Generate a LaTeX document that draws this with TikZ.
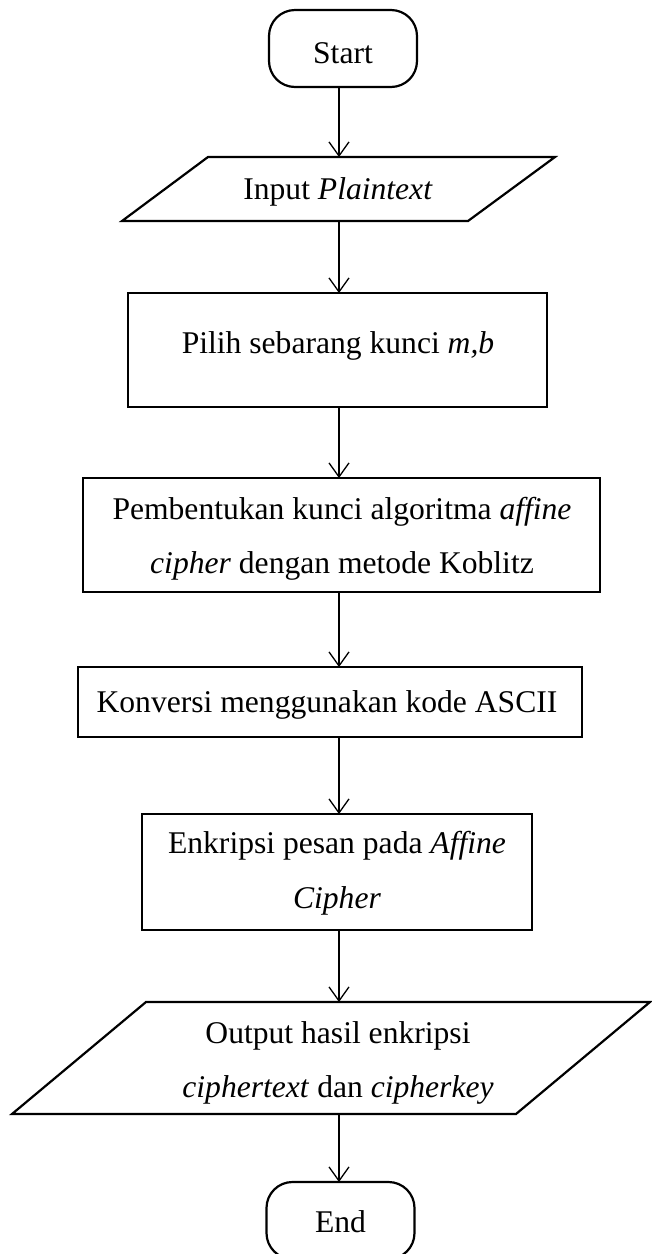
\documentclass[tikz,border=0pt]{standalone}
\usepackage{fontspec}
\setmainfont{Liberation Serif}
\usetikzlibrary{arrows.meta}
\begin{document}
\begin{tikzpicture}[x=1pt,y=-1pt,
  shape frame/.style={draw, line width=2.2pt, inner sep=0pt, outer sep=0pt},
  hidden frame/.style={inner sep=0pt, outer sep=0pt},
  terminal/.style={shape frame, rounded corners=26pt, minimum width=148pt, minimum height=77pt},
  label/.style={inner sep=0pt, anchor=base, font=\fontsize{31.6}{38}\selectfont},
  flow/.style={line width=1.3pt, -{Straight Barb[length=14pt,width=20pt]}}]
\useasboundingbox (0,0) rectangle (652,1254);
\fill[white] (0,0) rectangle (652,1254);
\coordinate (axis) at (339,0);

% terminals
\node[terminal] (start) at (343,48.5) {};
\node[terminal] (end) at (340.5,1220.5) {};

% input / output shapes (parallelograms drawn over hidden frames)
\node[hidden frame, minimum width=433pt, minimum height=64pt] (inp) at (338.5,189) {};
\draw[line width=2.2pt, line join=miter]
  (inp.south west) -- ([xshift=86pt]inp.north west) -- (inp.north east)
  -- ([xshift=-87pt]inp.south east) -- cycle;

\node[hidden frame, minimum width=638pt, minimum height=112pt] (out) at (331,1058) {};
\draw[line width=2.2pt, line join=miter]
  (out.south west) -- ([xshift=134pt]out.north west) -- (out.north east)
  -- ([xshift=-134pt]out.south east) -- cycle;

% process boxes
\node[shape frame, minimum width=419pt, minimum height=114pt] (pilih) at (337.5,350) {};
\node[shape frame, minimum width=517pt, minimum height=114pt] (pemb) at (341.5,535) {};
\node[shape frame, minimum width=504pt, minimum height=70pt] (konv) at (330,702) {};
\node[shape frame, minimum width=390pt, minimum height=116pt] (enk) at (337,872) {};

% texts
\node[label] (tStart) at (343,63) {Start};
\node[label] (tEnd) at (340.5,1232) {End};
\node[label] (tInp) at (338,199) {Input \textit{Plaintext}};
\node[label] (tPilih) at (338,353) {Pilih sebarang kunci \textit{m,b}};
\node[label] (tPembA) at (342,519) {Pembentukan kunci algoritma \textit{affine}};
\node[label] (tPembB) at (342,573) {\textit{cipher} dengan metode Koblitz};
\node[label] (tKonv) at (327,712) {Konversi menggunakan kode ASCII};
\node[label] (tEnkA) at (337,853) {Enkripsi pesan pada \textit{Affine}};
\node[label] (tEnkB) at (337,908) {\textit{Cipher}};
\node[label] (tOutA) at (338,1043) {Output hasil enkripsi};
\node[label] (tOutB) at (338,1097) {\textit{ciphertext} dan \textit{cipherkey}};

% connectors
\draw[flow] (axis |- start.south) -- (axis |- inp.north);
\draw[flow] (axis |- inp.south) -- (axis |- pilih.north);
\draw[flow] (axis |- pilih.south) -- (axis |- pemb.north);
\draw[flow] (axis |- pemb.south) -- (axis |- konv.north);
\draw[flow] (axis |- konv.south) -- (axis |- enk.north);
\draw[flow] (axis |- enk.south) -- (axis |- out.north);
\draw[flow] (axis |- out.south) -- (axis |- end.north);
\end{tikzpicture}
\end{document}
